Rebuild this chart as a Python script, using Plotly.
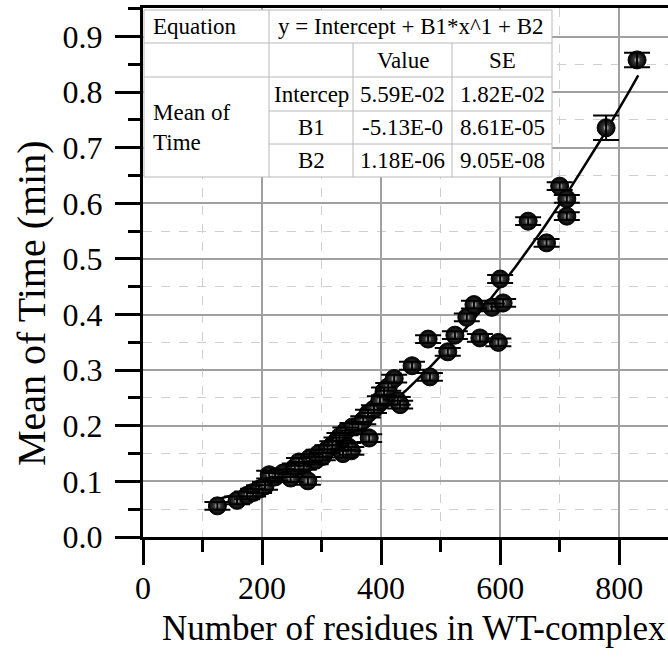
import plotly.graph_objects as go
import numpy as np

# ---- data ----
residues = [125, 158, 175, 185, 195, 205, 212, 222, 235, 248, 255, 262, 270, 277,
            280, 290, 295, 302, 310, 318, 325, 330, 336, 340, 345, 350, 352, 362,
            370, 378, 380, 388, 398, 405, 412, 422, 428, 432, 452, 479, 482, 512,
            524, 544, 556, 566, 586, 597, 600, 605, 647, 678, 700, 712, 712, 778, 830]
mean_time = [0.056, 0.066, 0.075, 0.080, 0.086, 0.092, 0.112, 0.108, 0.115, 0.106,
             0.125, 0.135, 0.128, 0.101, 0.142, 0.138, 0.150, 0.145, 0.158, 0.165,
             0.172, 0.180, 0.150, 0.190, 0.162, 0.155, 0.198, 0.200, 0.210, 0.222,
             0.178, 0.230, 0.246, 0.262, 0.270, 0.285, 0.245, 0.238, 0.308, 0.356,
             0.288, 0.333, 0.363, 0.395, 0.418, 0.358, 0.413, 0.350, 0.464, 0.421,
             0.568, 0.529, 0.631, 0.608, 0.577, 0.736, 0.858]
time_err = [0.007] * (len(residues) - 2) + [0.022, 0.013]

# fit parameters from the table
fit_intercept = 5.59e-02
fit_b1 = -5.13e-05
fit_b2 = 1.18e-06
fit_x = np.linspace(125, 832, 200)
fit_y = fit_intercept + fit_b1 * fit_x + fit_b2 * fit_x ** 2

x_ticks = [0, 200, 400, 600, 800]
y_ticks = [0.0, 0.1, 0.2, 0.3, 0.4, 0.5, 0.6, 0.7, 0.8, 0.9]

table_header = ["Equation", "y = Intercept + B1*x^1 + B2"]
table_cols = ["Value", "SE"]
table_params = ["Intercep", "B1", "B2"]
table_values = ["5.59E-02", "-5.13E-0", "1.18E-06"]
table_se = ["1.82E-02", "8.61E-05", "9.05E-08"]
table_group = "Mean of<br>Time"

SERIF = "Liberation Serif, Times New Roman, serif"

W, H = 668, 659
L, R, T, B = 143, 0, 8, 122
PW, PH = W - L - R, H - T - B


def px(xp):
    return (xp - L) / PW


def py(yp):
    return (H - B - yp) / PH


fig = go.Figure()
fig.add_trace(go.Scatter(x=fit_x, y=fit_y, mode="lines",
                         line=dict(color="black", width=2.5), hoverinfo="skip",
                         showlegend=False))
fig.add_trace(go.Scatter(
    x=residues, y=mean_time, mode="markers",
    marker=dict(size=18, color="black", line=dict(color="black", width=1),
                gradient=dict(type="radial", color="#555555")),
    showlegend=False))
fig.add_trace(go.Scatter(
    x=residues, y=mean_time, mode="markers", hoverinfo="skip",
    marker=dict(size=6, color="#505050", line=dict(width=0),
                gradient=dict(type="radial", color="#e6e6e6")),
    showlegend=False))
fig.add_trace(go.Scatter(
    x=residues, y=mean_time, mode="markers", hoverinfo="skip",
    marker=dict(size=1, color="rgba(0,0,0,0)"),
    error_y=dict(type="data", array=time_err, color="black", thickness=2, width=13),
    showlegend=False))

# ---- table drawn as shapes + text ----
xs = [144, 269, 353, 452, 552]
ys = [10, 43, 77, 111, 144, 177]
shapes = []
gray = "#b8b8b8"
shapes.append(dict(type="rect", xref="paper", yref="paper", x0=px(xs[0]), x1=px(xs[4]),
                   y0=py(ys[0]), y1=py(ys[5]), fillcolor="white",
                   line=dict(color=gray, width=1), layer="above"))


def hline(yp, x0, x1):
    shapes.append(dict(type="line", xref="paper", yref="paper", x0=px(x0), x1=px(x1),
                       y0=py(yp), y1=py(yp), line=dict(color=gray, width=1), layer="above"))


def vline(xp, y0, y1):
    shapes.append(dict(type="line", xref="paper", yref="paper", x0=px(xp), x1=px(xp),
                       y0=py(y0), y1=py(y1), line=dict(color=gray, width=1), layer="above"))


hline(ys[1], xs[0], xs[4])
hline(ys[2], xs[0], xs[4])
hline(ys[3], xs[1], xs[4])
hline(ys[4], xs[1], xs[4])
vline(xs[1], ys[0], ys[5])
vline(xs[2], ys[1], ys[5])
vline(xs[3], ys[1], ys[5])

ann = []
tf = dict(family=SERIF, size=23, color="black")


def text(t, xp, yp, align="center"):
    xanchor = {"center": "center", "left": "left"}[align]
    ann.append(dict(text=t, xref="paper", yref="paper", x=px(xp), y=py(yp),
                    xanchor=xanchor, yanchor="middle", showarrow=False, font=tf,
                    align=align))


text(table_header[0], 151, (ys[0] + ys[1]) / 2, "left")
text(table_header[1], (xs[1] + xs[4]) / 2, (ys[0] + ys[1]) / 2)
text(table_cols[0], (xs[2] + xs[3]) / 2, (ys[1] + ys[2]) / 2)
text(table_cols[1], (xs[3] + xs[4]) / 2, (ys[1] + ys[2]) / 2)
for i in range(3):
    yc = (ys[2 + i] + ys[3 + i]) / 2
    text(table_params[i], (xs[1] + xs[2]) / 2, yc)
    text(table_values[i], (xs[2] + xs[3]) / 2, yc)
    text(table_se[i], (xs[3] + xs[4]) / 2, yc)
text(table_group, 151, (ys[2] + ys[5]) / 2, "left")

# axis titles
ann.append(dict(text="Number of residues in WT-complex", xref="paper", yref="paper",
                x=px(414), y=py(628), xanchor="center", yanchor="middle", showarrow=False,
                font=dict(family=SERIF, size=35, color="black")))
ann.append(dict(text="Mean of Time (min)", xref="paper", yref="paper",
                x=px(31), y=py(303), xanchor="center", yanchor="middle", showarrow=False,
                textangle=-90, font=dict(family=SERIF, size=40, color="black")))

fig.update_layout(
    width=W, height=H, margin=dict(l=L, r=R, t=T, b=B),
    paper_bgcolor="white", plot_bgcolor="white",
    shapes=shapes, annotations=ann,
    font=dict(family=SERIF, color="black"),
)
fig.update_xaxes(
    range=[0, 882], tickmode="array", tickvals=x_ticks, ticktext=[str(v) for v in x_ticks],
    ticks="outside", ticklen=25, tickwidth=3, tickcolor="black",
    showline=True, linecolor="black", linewidth=3, mirror=True,
    showgrid=True, gridcolor="#a0a0a0", gridwidth=2, zeroline=False,
    tickfont=dict(family=SERIF, size=32, color="black"), ticklabelstandoff=-4,
    minor=dict(dtick=100, tick0=0, ticks="outside", ticklen=12, tickwidth=3, tickcolor="black",
               showgrid=True, gridcolor="#cfcfcf", gridwidth=1, griddash="dash"),
)
fig.update_yaxes(
    range=[0, 0.9514], tickmode="array", tickvals=y_ticks,
    ticktext=["%.1f" % v for v in y_ticks],
    ticks="outside", ticklen=25, tickwidth=3, tickcolor="black",
    showline=True, linecolor="black", linewidth=3, mirror=False,
    showgrid=True, gridcolor="#a0a0a0", gridwidth=2, zeroline=False,
    tickfont=dict(family=SERIF, size=32, color="black"), ticklabelstandoff=6,
    minor=dict(dtick=0.05, tick0=0, ticks="outside", ticklen=12, tickwidth=3, tickcolor="black",
               showgrid=True, gridcolor="#cfcfcf", gridwidth=1, griddash="dash"),
)

fig.write_html("out.html", post_script="document.body.style.margin='0px';",
               config={"displayModeBar": False})
